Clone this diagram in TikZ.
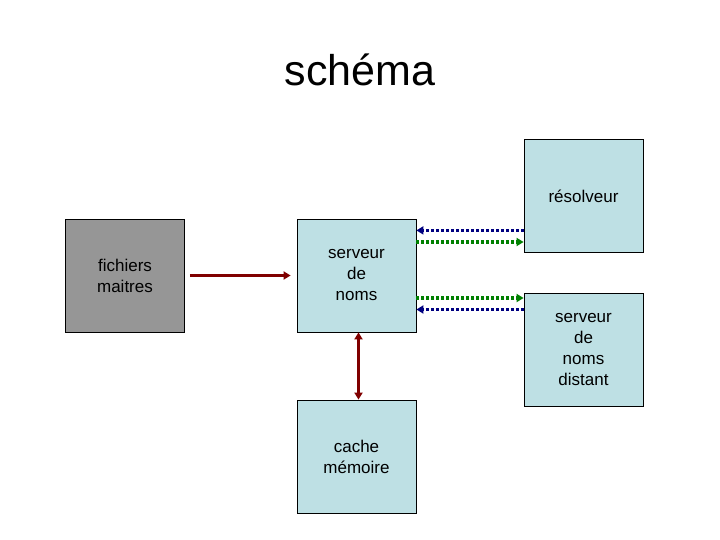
\documentclass[tikz,border=0pt]{standalone}
\usepackage{fontspec}
\setmainfont{Liberation Sans}
\usetikzlibrary{arrows.meta}
\definecolor{boxblue}{RGB}{190,224,228}
\definecolor{boxgray}{RGB}{150,150,150}
\definecolor{arrowred}{RGB}{128,0,0}
\definecolor{dotblue}{RGB}{0,0,128}
\definecolor{dotgreen}{RGB}{0,128,0}
\begin{document}
\begin{tikzpicture}[x=1pt,y=-1pt,
	box/.style={draw,line width=0.8pt,fill=boxblue,minimum width=119pt,minimum height=113pt,inner sep=0pt,align=center,font=\fontsize{17}{21}\selectfont},
	plein/.style={arrowred,line width=3pt,-{Triangle[length=7pt,width=8pt]}},
	pointille/.style={line width=3.3pt,dash pattern=on 3pt off 2pt,-{Triangle[length=7pt,width=8pt]}}]
	\useasboundingbox (0,0) rectangle (720,540);
	%titre
	\node (titre) at (360,70) {\fontsize{43}{50}\selectfont schéma};
	%boites
	\node[box,fill=boxgray] (fichiers) at (125,275.5) {fichiers\\maitres};
	\node[box] (serveur) at (356.5,275.5) {serveur\\de\\noms};
	\node[box] (resolveur) at (583.5,196) {résolveur};
	\node[box] (distant) at (583.5,349.5) {serveur\\de\\noms\\distant};
	\node[box] (cache) at (356.5,456.5) {cache\\mémoire};
	%fleches pleines
	\coordinate (depart) at ([xshift=5pt]fichiers.east);
	\coordinate (arrivee) at ([xshift=-6pt]serveur.west);
	\draw[plein] (depart) -- (arrivee);
	\draw[plein,{Triangle[length=7pt,width=8pt]}-{Triangle[length=7pt,width=8pt]}] ([xshift=2pt]serveur.south) -- ([xshift=2pt]cache.north);
	%fleches pointillees
	\draw[pointille,dotblue] ([yshift=22.5pt]resolveur.south west) -- ([yshift=22.5pt]resolveur.south west -| serveur.east);
	\draw[pointille,dotgreen] ([yshift=33.5pt]serveur.east) -- ([yshift=33.5pt]serveur.east -| resolveur.west);
	\draw[pointille,dotgreen] ([yshift=-22.5pt]serveur.east) -- ([yshift=-22.5pt]serveur.east -| distant.west);
	\draw[pointille,dotblue] ([yshift=-34pt]serveur.east -| distant.west) -- ([yshift=-34pt]serveur.east);
\end{tikzpicture}
\end{document}
